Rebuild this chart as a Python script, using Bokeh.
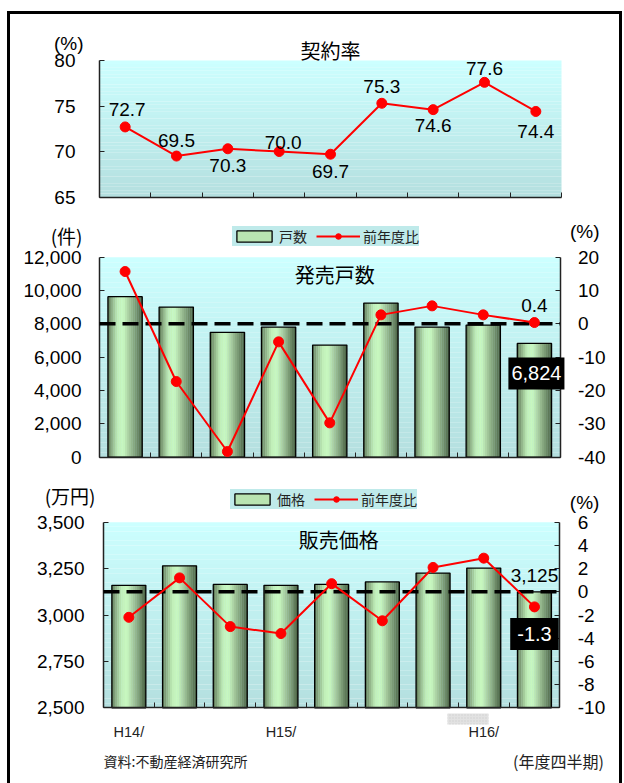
from bokeh.plotting import figure
from bokeh.layouts import column
from bokeh.models import (ColumnDataSource, Range1d, LinearAxis, FixedTicker,
                          SingleIntervalTicker, NumeralTickFormatter, Label,
                          BoxAnnotation, Legend, LegendItem)
from bokeh.transform import dodge
from bokeh.embed import file_html
from bokeh.resources import INLINE

# ---------------- data ----------------
period_labels = ["H14/", "", "", "H15/", "", "", "", "H16/", ""]
contract_rate = [72.7, 69.5, 70.3, 70.0, 69.7, 75.3, 74.6, 77.6, 74.4]
units = [9630, 9010, 7490, 7810, 6730, 9250, 7810, 7930, 6824]
units_yoy = [15.7, -17.3, -38.3, -5.4, -29.7, 2.7, 5.4, 2.7, 0.4]
price = [3160, 3265, 3165, 3160, 3165, 3178, 3226, 3253, 3125]
price_yoy = [-2.2, 1.2, -3.0, -3.6, 0.7, -2.5, 2.1, 2.9, -1.3]

xs = list(range(len(period_labels)))
XL, XR = xs[0] - 0.5, xs[-1] + 0.5

NUM = "Liberation Sans"
JP = "Noto Sans CJK JP"
RED = "#ff0000"
AX = "#222222"
W = 609


def hex2rgb(h):
    h = h.lstrip("#")
    return tuple(int(h[i:i + 2], 16) for i in (0, 2, 4))


def interp(stops, t):
    for (t0, c0), (t1, c1) in zip(stops, stops[1:]):
        if t0 <= t <= t1:
            a = (t - t0) / (t1 - t0) if t1 > t0 else 0
            r0, g0, b0 = hex2rgb(c0)
            r1, g1, b1 = hex2rgb(c1)
            return "#%02x%02x%02x" % (round(r0 + (r1 - r0) * a), round(g0 + (g1 - g0) * a),
                                      round(b0 + (b1 - b0) * a))
    return stops[-1][1]


BG_STOPS = [(0.0, "#b4dfdf"), (1.0, "#ccffff")]
BAR_STOPS = [(0.0, "#587250"), (0.1, "#85a67d"), (0.28, "#bfedb7"), (0.45, "#c9f9c1"),
             (0.62, "#a6cb9e"), (0.82, "#789772"), (1.0, "#485f42")]


def span_range(lo_px, hi_px, total_px, v_lo, v_hi):
    """Range so that data v_lo..v_hi occupies pixels lo_px..hi_px of a frame total_px wide."""
    k = (v_hi - v_lo) / (hi_px - lo_px)
    return Range1d(v_lo - lo_px * k, v_hi + (total_px - hi_px) * k)


def make_fig(height, box, y0, y1):
    left, right, top, bottom = box
    p = figure(width=W, height=height, min_border=0,
               x_range=span_range(left, right, W, XL, XR),
               y_range=span_range(height - bottom, height - top, height, y0, y1),
               output_backend="svg", toolbar_location=None)
    p.outline_line_color = None
    p.grid.visible = False
    p.background_fill_color = "white"
    p.border_fill_color = "white"
    nb = 40
    for k in range(nb):
        b = y0 + (y1 - y0) * k / nb
        t = y0 + (y1 - y0) * (k + 1) / nb
        p.add_layout(BoxAnnotation(left=XL, right=XR, bottom=b, top=t,
                                   fill_color=interp(BG_STOPS, (k + 0.5) / nb),
                                   fill_alpha=1, line_color=None, level="underlay"))
    ya = p.yaxis[0]
    ya.fixed_location = XL
    ya.bounds = (y0, y1)
    xa = p.xaxis[0]
    xa.fixed_location = y0
    xa.bounds = (XL, XR)
    return p


def pct_range(p, height, box, y0, y1):
    left, right, top, bottom = box
    p.extra_y_ranges = {"pct": span_range(height - bottom, height - top, height, y0, y1)}
    ax = LinearAxis(y_range_name="pct", fixed_location=XR, bounds=(y0, y1))
    p.add_layout(ax, "right")
    return ax


def style_axis(ax, standoff=14):
    ax.axis_line_color = AX
    ax.axis_line_width = 1.5
    ax.major_tick_line_color = AX
    ax.major_tick_in = 5
    ax.major_tick_out = 0
    ax.minor_tick_line_color = None
    ax.major_label_text_font = NUM
    ax.major_label_text_font_size = "19px"
    ax.major_label_text_color = "black"
    ax.major_label_standoff = standoff


def style_xaxis(p, with_labels=False):
    bounds = [i - 0.5 for i in range(len(xs) + 1)]
    ax = p.xaxis[0]
    ax.axis_line_color = AX
    ax.axis_line_width = 1.5
    ax.major_tick_line_color = None
    ax.minor_tick_line_color = AX
    ax.minor_tick_in = 5
    ax.minor_tick_out = 0
    if with_labels:
        idx = [i for i, s in enumerate(period_labels) if s]
        ax.ticker = FixedTicker(ticks=idx, minor_ticks=bounds)
        ax.major_label_overrides = {i: period_labels[i] for i in idx}
        ax.major_label_text_font = NUM
        ax.major_label_text_font_size = "14.5px"
        ax.major_label_text_color = AX
        ax.major_label_standoff = 10
    else:
        ax.ticker = FixedTicker(ticks=[], minor_ticks=bounds)


def add_bars(p, values, base):
    src = ColumnDataSource(dict(x=xs, v=values))
    bw = 0.67
    n = 18
    legend_strip = None
    for k in range(n):
        t = (k + 0.5) / n
        off = -bw / 2 + (k + 0.5) * bw / n
        r = p.vbar(x=dodge("x", off), top="v", bottom=base, width=bw / n * 1.12, source=src,
                   fill_color=interp(BAR_STOPS, t), line_color=None)
        if k == 9:
            legend_strip = r
    outline = p.vbar(x="x", top="v", bottom=base, width=bw, source=src,
                     fill_color=None, line_color="black", line_width=1.3)
    return legend_strip, outline


def add_zero_line(p):
    p.segment(x0=XL, x1=XR, y0=0, y1=0, y_range_name="pct", line_color="black",
              line_width=3.5, line_dash="16 7", level="annotation")


def add_yoy(p, values):
    src = ColumnDataSource(dict(x=xs, v=values))
    ln = p.line(x="x", y="v", source=src, line_color=RED, line_width=2, y_range_name="pct",
                level="overlay")
    dots = p.scatter(x="x", y="v", source=src, size=10, fill_color=RED, line_color=RED,
                     y_range_name="pct", level="overlay")
    return ln, dots


def add_legend(p, bar_name, strip, outline, ln, dots, loc):
    lg = Legend(items=[LegendItem(label=bar_name, renderers=[strip, outline]),
                       LegendItem(label="前年度比", renderers=[ln, dots])],
                orientation="horizontal", location=loc)
    lg.label_text_font = JP
    lg.label_text_font_size = "14px"
    lg.label_text_color = AX
    lg.glyph_width = 44
    lg.glyph_height = 14
    lg.label_height = 18
    lg.label_standoff = 3
    lg.spacing = 9
    lg.padding = 5
    lg.margin = 0
    lg.background_fill_color = "#bfeaea"
    lg.background_fill_alpha = 1
    lg.border_line_color = None
    p.add_layout(lg)


def text_label(p, x, y, text, dx=0, dy=0, size="19px", font=NUM, align="center", color="black",
               y_range_name="default", **kw):
    lab = Label(x=x, y=y, text=text, x_offset=dx, y_offset=dy, text_font=font,
                text_font_size=size, text_align=align, text_baseline="middle", text_color=color,
                y_range_name=y_range_name, **kw)
    p.add_layout(lab)
    return lab


# ---------------- panel 1: contract rate ----------------
H1, BOX1 = 196, (89, 551, 46, 182.5)
p1 = make_fig(H1, BOX1, 65, 80)
style_axis(p1.yaxis[0], standoff=20)
p1.yaxis[0].ticker = SingleIntervalTicker(interval=5)
style_xaxis(p1)
src1 = ColumnDataSource(dict(x=xs, v=contract_rate))
p1.line(x="x", y="v", source=src1, line_color=RED, line_width=2)
p1.scatter(x="x", y="v", source=src1, size=10, fill_color=RED, line_color=RED)
rate_dy = [17, 16, -17, 9, -17, 17, -16, 14, -20]
rate_dx = [2, 0, 0, 4, 0, 0, 0, 0, 0]
for i, v in enumerate(contract_rate):
    text_label(p1, xs[i], v, f"{v:.1f}", dx=rate_dx[i], dy=rate_dy[i])
text_label(p1, (XL + XR) / 2, 80, "契約率", dy=10, size="20px", font=JP)
text_label(p1, XL, 80, "(%)", dx=-16, dy=17, align="right")

# ---------------- panel 2: units ----------------
H2, BOX2 = 260, (89, 549.5, 46.7, 246.7)
p2 = make_fig(H2, BOX2, 0, 12000)
style_axis(p2.yaxis[0], standoff=14)
p2.yaxis[0].ticker = SingleIntervalTicker(interval=2000)
p2.yaxis[0].formatter = NumeralTickFormatter(format="0,0")
ax2r = pct_range(p2, H2, BOX2, -40, 20)
style_axis(ax2r, standoff=14)
ax2r.ticker = SingleIntervalTicker(interval=10)
ax2r.formatter = NumeralTickFormatter(format="0")
style_xaxis(p2)
s2, o2 = add_bars(p2, units, 0)
add_zero_line(p2)
l2, d2 = add_yoy(p2, units_yoy)
add_legend(p2, "戸数", s2, o2, l2, d2, (222, 224))
text_label(p2, (XL + XR) / 2, 12000, "発売戸数", dx=5, dy=-17, size="20px", font=JP)
text_label(p2, XL, 12000, "(件)", dx=-17, dy=22, font=JP, align="right")
text_label(p2, XR, 20, "(%)", dx=10, dy=26, align="left", y_range_name="pct")
text_label(p2, xs[-1], units_yoy[-1], f"{units_yoy[-1]:.1f}", dy=17, y_range_name="pct")
text_label(p2, xs[-1], units[-1], f"{units[-1]:,}", dx=2, dy=-30, size="20px", color="white",
           background_fill_color="black", padding=(3, 9))

# ---------------- panel 3: price ----------------
H3, BOX3 = 313, (93, 549.3, 51.7, 237.3)
p3 = make_fig(H3, BOX3, 2500, 3500)
style_axis(p3.yaxis[0], standoff=15)
p3.yaxis[0].ticker = SingleIntervalTicker(interval=250)
p3.yaxis[0].formatter = NumeralTickFormatter(format="0,0")
ax3r = pct_range(p3, H3, BOX3, -10, 6)
style_axis(ax3r, standoff=14)
ax3r.ticker = SingleIntervalTicker(interval=2)
ax3r.formatter = NumeralTickFormatter(format="0")
style_xaxis(p3, with_labels=True)

# light grey patch behind the "H16/" period label (decoration of the original)
kx = (XR - XL) / (BOX3[1] - BOX3[0])
ky = (3500 - 2500) / (BOX3[3] - BOX3[2])
p3.add_layout(BoxAnnotation(left=XL + (437 - BOX3[0]) * kx, right=XL + (478 - BOX3[0]) * kx,
                            top=2500 - (243 - BOX3[3]) * ky, bottom=2500 - (254 - BOX3[3]) * ky,
                            fill_color="#e2e2e2", fill_alpha=1, line_color=None,
                            hatch_pattern="dot", hatch_color="#cfcfcf", hatch_scale=3,
                            level="underlay"))

s3, o3 = add_bars(p3, price, 2500)
add_zero_line(p3)
l3, d3 = add_yoy(p3, price_yoy)
add_legend(p3, "価格", s3, o3, l3, d3, (220, 274))
text_label(p3, (XL + XR) / 2, 3500, "販売価格", dx=7, dy=-17, size="20px", font=JP)
text_label(p3, XL, 3500, "(万円)", dx=-8, dy=27, font=JP, align="right")
text_label(p3, XR, 6, "(%)", dx=10, dy=20, align="left", y_range_name="pct")
text_label(p3, xs[-1], price[-1], f"{price[-1]:,}", dy=16)
text_label(p3, xs[-1], price_yoy[-1], f"{price_yoy[-1]:.1f}", dy=-27, size="20px", color="white",
           background_fill_color="black", padding=(7, 9), y_range_name="pct")
text_label(p3, XL, 2500, "資料:不動産経済研究所", dy=-53, size="14px", font=JP, align="left",
           color=AX)
text_label(p3, XR, 2500, "(年度四半期)", dx=44, dy=-53, size="16px", font=JP, align="right",
           color=AX)

layout = column(p1, p2, p3, margin=(11, 0, 0, 7), spacing=0,
                styles={"border-top": "3px solid black", "border-left": "3px solid black",
                        "border-right": "3px solid black"})

open("out.html", "w").write(file_html(layout, INLINE))
